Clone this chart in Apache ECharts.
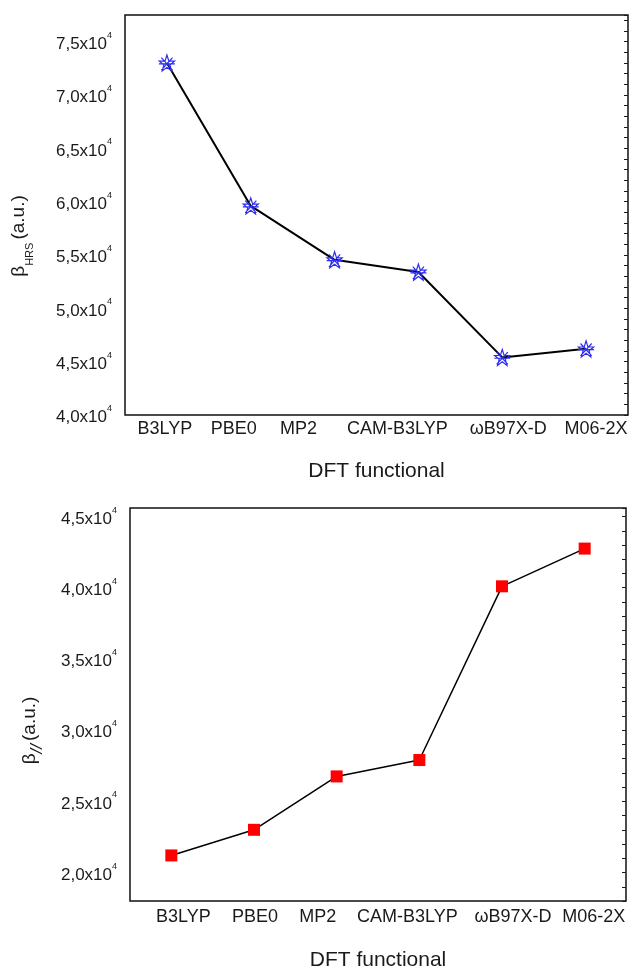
<!DOCTYPE html>
<html>
<head>
<meta charset="utf-8">
<script src="https://cdn.jsdelivr.net/npm/echarts@6/dist/echarts.min.js"></script>
<style>
    html, body { margin: 0; padding: 0; background: #fff; }
    #chart { width: 632px; height: 972px; }
</style>
</head>
<body>
<div id="chart"></div>
<script>
    'use strict';

    const functionals = ['B3LYP', 'PBE0', 'MP2', 'CAM-B3LYP', 'ωB97X-D', 'M06-2X'];
    const betaHRS = [73000, 59600, 54550, 53400, 45400, 46200];
    const betaPar = [21200, 23000, 26750, 27900, 40100, 42750];

    // label nudges so the category names sit where the original put them
    const topShift = [-2, -17, -36, -21, 6, 10];
    const bottomShift = [12, 1, -19, -12, 11, 9];

    const FONT = '"Liberation Sans", Arial, sans-serif';
    const INK = '#1a1a1a';

    const starPath = 'path://M10,0L12.35,6.76L19.51,6.91L13.8,11.24L15.88,18.09L10,14L4.12,18.09L6.2,11.24L0.49,6.91L7.65,6.76Z' +
        'M0,10L20,10M3,3L17,17M17,3L3,17';

    const shiftRich = function (shifts) {
        const rich = {};
        shifts.forEach(function (s, i) {
            rich['c' + i] = {
                fontSize: 18, fontFamily: FONT, color: INK,
                padding: s >= 0 ? [0, 0, 0, 2 * s] : [0, -2 * s, 0, 0]
            };
        });
        return rich;
    };

    const yLabel = function (step) {
        return function (v) {
            if (v % step !== 0)
                return '';
            return '{b|' + (v / 10000).toFixed(1).replace('.', ',') + 'x10}{s|4}';
        };
    };

    const yRich = {
        b: {fontSize: 17, fontFamily: FONT, color: INK, lineHeight: 22, verticalAlign: 'bottom'},
        s: {fontSize: 9, fontFamily: FONT, color: INK, lineHeight: 22, verticalAlign: 'top'}
    };

    const xAxisFor = function (gridIndex, shifts, margin, gap) {
        return {
            type: 'category',
            gridIndex: gridIndex,
            data: functionals,
            boundaryGap: true,
            axisLine: {show: false},
            axisTick: {show: false},
            splitLine: {show: false},
            axisLabel: {
                interval: 0,
                margin: margin,
                formatter: function (v, i) { return '{c' + i + '|' + v + '}'; },
                rich: shiftRich(shifts)
            },
            name: 'DFT functional',
            nameLocation: 'middle',
            nameGap: gap,
            nameTextStyle: {fontSize: 21, fontFamily: FONT, color: INK}
        };
    };

    const yAxisFor = function (gridIndex, min, max, name, rich, gap, pad) {
        return [{
            type: 'value',
            gridIndex: gridIndex,
            min: min,
            max: max,
            interval: 1000,
            axisLine: {show: false},
            axisTick: {show: false},
            splitLine: {show: false},
            axisLabel: {margin: 13, formatter: yLabel(5000), rich: yRich},
            name: name,
            nameLocation: 'middle',
            nameRotate: 90,
            nameGap: gap,
            nameTextStyle: {padding: [0, pad, 0, 0], rich: rich}
        }, {
            type: 'value',
            gridIndex: gridIndex,
            position: 'right',
            min: min,
            max: max,
            interval: 1000,
            axisLine: {show: false},
            axisTick: {show: true, inside: true, length: 4, lineStyle: {color: INK}},
            axisLabel: {show: false},
            splitLine: {show: false}
        }];
    };

    const titleRich = {
        b: {fontSize: 19, fontFamily: FONT, color: INK, lineHeight: 26, verticalAlign: 'top'},
        sub: {fontSize: 11, fontFamily: FONT, color: INK, lineHeight: 26, verticalAlign: 'bottom', padding: [0, 3, 0, 0]},
        it: {fontSize: 17, fontFamily: FONT, fontStyle: 'italic', color: INK, lineHeight: 26, verticalAlign: 'bottom', padding: [0, 3, 0, 0]}
    };

    const chart = echarts.init(document.getElementById('chart'));
    chart.setOption({
        backgroundColor: '#fff',
        animation: false,
        grid: [
            {left: 125, top: 15, right: 4, height: 400, show: true, borderColor: '#111', borderWidth: 1.5},
            {left: 130, top: 508, right: 6, height: 395, show: true, borderColor: '#111', borderWidth: 1.5}
        ],
        xAxis: [
            xAxisFor(0, topShift, 5, 46),
            xAxisFor(1, bottomShift, 7, 49)
        ],
        yAxis: yAxisFor(0, 40000, 77500, '{b|β}{sub|HRS}{b|(a.u.)}', titleRich, 90, 42)
            .concat(yAxisFor(1, 18000, 45600, '{b|β}{it|//}{b|(a.u.)}', titleRich, 84, 52)),
        series: [{
            type: 'line',
            xAxisIndex: 0,
            yAxisIndex: 0,
            data: betaHRS,
            symbol: starPath,
            symbolSize: 16,
            lineStyle: {color: '#000', width: 2},
            itemStyle: {color: 'rgba(0,0,0,0)', borderColor: '#2d2df0', borderWidth: 1.2}
        }, {
            type: 'line',
            xAxisIndex: 1,
            yAxisIndex: 2,
            data: betaPar,
            symbol: 'rect',
            symbolSize: 12,
            lineStyle: {color: '#000', width: 1.5},
            itemStyle: {color: '#ff0000', borderWidth: 0}
        }]
    });
</script>
</body>
</html>
